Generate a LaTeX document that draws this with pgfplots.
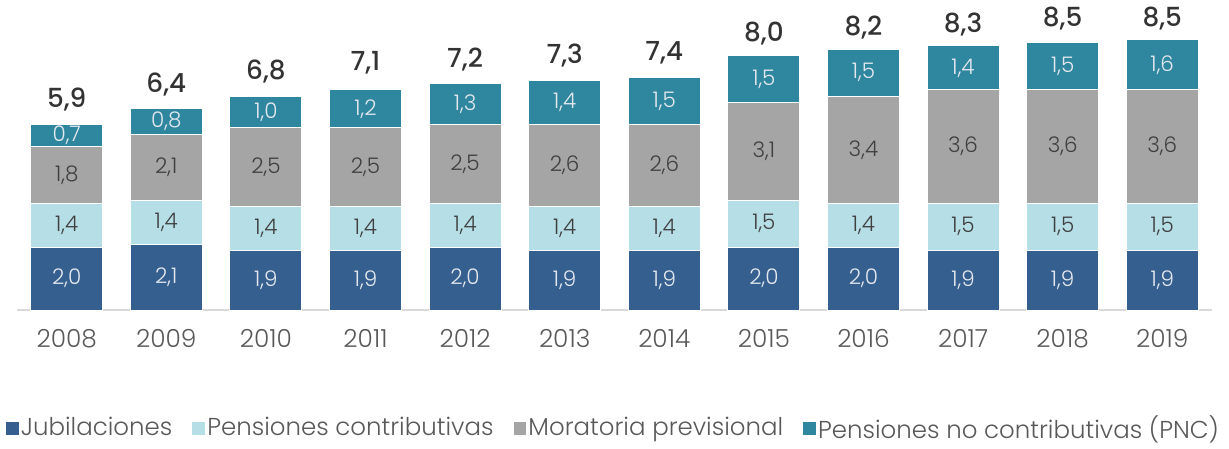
\documentclass[border=0pt]{standalone}
\usepackage{fontspec}
\setmainfont{Poppins Light}
\IfFontExistsTF{Poppins Medium}{\newfontfamily\totfont{Poppins Medium}}{\newfontfamily\totfont{Poppins}}
\usepackage{pgfplots}
\usepackage{pgfplotstable}
\pgfplotsset{compat=1.18}

\definecolor{jub}{HTML}{355F8F}
\definecolor{pc}{HTML}{B6DEE7}
\definecolor{mor}{HTML}{A5A5A5}
\definecolor{pnc}{HTML}{2F879F}
\definecolor{darktxt}{HTML}{404040}
\definecolor{lighttxt}{HTML}{E4E8EE}
\definecolor{ticktxt}{HTML}{595959}

% valores en millones, por componente
\pgfplotstableread{
x   jub pc  mor pnc tot
0   2.0 1.4 1.8 0.7 5.9
1   2.1 1.4 2.1 0.8 6.4
2   1.9 1.4 2.5 1.0 6.8
3   1.9 1.4 2.5 1.2 7.1
4   2.0 1.4 2.5 1.3 7.2
5   1.9 1.4 2.6 1.4 7.3
6   1.9 1.4 2.6 1.5 7.4
7   2.0 1.5 3.1 1.5 8.0
8   2.0 1.4 3.4 1.5 8.2
9   1.9 1.5 3.6 1.4 8.3
10  1.9 1.5 3.6 1.5 8.5
11  1.9 1.5 3.6 1.6 8.5
}\datos

\pgfplotsset{
  base/.style={
    scale only axis, width=598.5bp, height=155bp,
    xmin=-0.5, xmax=11.5, ymin=0, ymax=9.84,
    clip=false,
    /pgf/number format/.cd, use comma, fixed, fixed zerofill, precision=1, assume math mode=true,
    /pgfplots/.cd,
  },
  seg/.style={
    fill=#1, draw=white, line width=0.5bp,
    nodes near coords, point meta=explicit,
    legend image code/.code={\fill[#1] (0bp,-3bp) rectangle (6bp,3bp);},
  },
}

\begin{document}
\begin{tikzpicture}
\begin{axis}[
  base,
  ybar stacked, bar width=36bp,
  hide y axis,
  axis x line*=bottom,
  x axis line style={draw=black!15, line width=1bp, -},
  xtick={0,...,11},
  xticklabels={2008,2009,2010,2011,2012,2013,2014,2015,2016,2017,2018,2019},
  major tick length=0pt,
  xticklabel style={font=\fontsize{12.5}{14}\selectfont, text=ticktxt, yshift=-6bp},
  nodes near coords style={font=\fontsize{10.8}{12}\selectfont},
  legend style={at={(0.5,-0.381)}, anchor=center, draw=none, fill=none,
    font=\fontsize{12.3}{14}\selectfont, text=ticktxt,
    /tikz/every even column/.append style={column sep=8bp},
    /tikz/every odd column/.append style={column sep=-1bp}},
  legend columns=4,
]
\addplot[seg=jub, nodes near coords style={text=lighttxt}] table[x=x, y=jub, meta=jub] {\datos};
\addplot[seg=pc, nodes near coords style={text=darktxt}] table[x=x, y=pc, meta=pc] {\datos};
\addplot[seg=mor, nodes near coords style={text=darktxt}] table[x=x, y=mor, meta=mor] {\datos};
\addplot[seg=pnc, nodes near coords style={text=lighttxt}] table[x=x, y=pnc, meta=pnc] {\datos};
\legend{Jubilaciones, Pensiones contributivas, Moratoria previsional, Pensiones no contributivas (PNC)}
\path (rel axis cs:0,0) ++(-7.5bp,-66.5bp);
\path (rel axis cs:1,1) ++(8.5bp,0bp);
\end{axis}
% totales sobre cada barra
\begin{axis}[base, hide axis]
\addplot[draw=none, mark=none, nodes near coords, point meta=explicit,
  every node near coord/.append style={anchor=south, text=black!80,
    font=\fontsize{13.2}{15}\totfont, yshift=3bp}]
  table[x=x, y=tot, meta=tot] {\datos};
\end{axis}
\end{tikzpicture}
\end{document}
